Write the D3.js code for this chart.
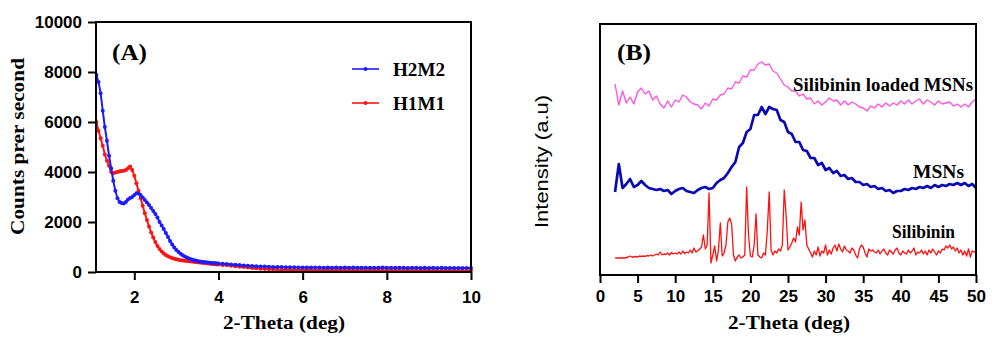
<!DOCTYPE html>
<html><head><meta charset="utf-8">
<script src="https://cdn.jsdelivr.net/npm/d3@7"></script>
<style>body{margin:0;background:#fff}svg{display:block}</style>
</head><body>
<svg id="c" width="1000" height="340"></svg>
<script>
// ---------- Panel A data ----------
const thetaA = d3.range(1.10, 4.001, 0.05).map(v => +v.toFixed(2))
  .concat(d3.range(4.1, 10.001, 0.1).map(v => +v.toFixed(1)));
const h2m2 = [
  7880,7600,7150,6450,5800,5250,4650,4150,3650,3250,
  2950,2800,2760,2740,2800,2900,2960,3000,3080,3150,
  3140,3080,2980,2880,2780,2680,2560,2440,2320,2180,
  2000,1860,1720,1560,1400,1240,1100,980,880,800,
  730,670,620,580,540,510,480,460,440,425,
  410,400,390,380,370,365,360,350,345,
  335,320,305,292,278,265,252,242,232,224,
  216,210,204,200,196,192,189,186,184,181,
  178,183,176,180,175,179,174,178,173,177,
  172,176,171,175,170,174,172,169,176,171,
  168,174,166,172,165,170,167,163,170,164,
  168,162,166,160,165,159,163,158,162,156
];
const h1m1 = [
  6000,5650,5350,5050,4700,4450,4250,4000,3950,3980,
  4000,4030,4040,4050,4080,4150,4220,4080,3850,3550,
  3250,2950,2650,2350,2080,1820,1580,1380,1200,1040,
  920,820,740,680,630,590,560,530,510,490,
  475,460,450,440,430,420,410,400,390,380,
  370,360,355,345,335,325,315,305,300,
  285,268,250,232,214,196,178,162,148,135,
  124,114,106,99,94,90,86,83,80,78,
  76,80,74,77,72,76,71,75,70,74,
  69,73,68,72,67,71,66,70,65,69,
  64,68,63,67,62,66,61,65,60,64,
  59,63,58,62,57,61,56,60,55,59
];
const seriesA = ["H2M2", "H1M1"];
const ticksAX = [2, 4, 6, 8, 10];
const ticksAY = [0, 2000, 4000, 6000, 8000, 10000];

// ---------- Panel B data (arbitrary intensity units, stacked) ----------
const thetaB = d3.range(2, 50.001, 0.5).map(v => +v.toFixed(2));
const thetaSil = d3.range(2, 50.001, 0.25).map(v => +v.toFixed(2));
const loadedMSNs = [
  191,170,184,172, 178,171,183,187, 181,184,175,179, 171,167,174,168,
  175,173,180,178, 173,171,170,166, 172,169,176,175, 180,181,187,186,
  193,192,199,198, 205,205,211,213, 210,211,204,202, 196,190,188,184,
  184,179,181,176, 177,171,174,170, 173,177,174,175, 170,174,170,173,
  171,168,167,164, 169,167,171,168, 172,169,172,170, 174,171,175,171,
  174,176,171,175, 173,170,174,171, 172,173,169,171, 168,171,168,173,
  176
];
const msns = [
  83,111,87,91, 96,88,90,94, 90,87,86,85, 86,84,85,81,
  84,86,87,84, 83,82,85,87, 88,86,87,92, 95,97,102,108,
  113,128,132,143, 146,160,160,168, 161,168,166,165, 155,153,143,141,
  133,133,125,124, 117,117,110,112, 105,107,102,104, 99,100,96,97,
  93,93,90,91, 88,89,86,87, 84,85,82,84, 84,86,85,87,
  86,88,87,89, 87,90,88,90, 89,91,90,92, 90,92,89,91,
  87
];
const silibinin = [
  17,17,17,17, 17,17,17.5,18, 19,18,18,18.5, 18,19,18.5,19,
  18.5,19.5,19,20, 19,20,21,20, 23,20,21,20.5, 22,20,22.5,21,
  22,21,23,21, 24,21.5,23,22, 25,22,27,23, 24,26,28,40,
  26,30,82,12, 20,29,14,25, 52,19,22,30, 53,57,51,20,
  14,18,20,17, 18,20,88,40, 19,18,30,61, 20,18,17,22,
  20,45,83,25, 20,24,22,26, 24,30,85,60, 25,28,32,37,
  33,48,40,73, 45,55,30,26, 22,18,24,20, 28,19,24,22,
  30,20,25,21, 27,30,24,31, 26,23,29,25, 24,22,27,25,
  20,17,26,30, 28,22,18,26, 24,25,23,22, 25,21,24,26,
  22,20,25,23, 21,25,27,22, 20,24,22,21, 25,22,24,27,
  20,23,22,25, 21,24,20,25, 22,26,23,20, 24,22,26,25,
  29,27,30,26, 28,24,27,22, 25,20,24,19, 26,18,24,23,
  23
];
const seriesB = ["Silibinin loaded MSNs", "MSNs", "Silibinin"];
const ticksBX = d3.range(0, 51, 5);

// ---------- drawing ----------
const svg = d3.select("#c");
const SANS = "'Liberation Sans', Arial, sans-serif";
const SERIF = "'Liberation Serif', 'Times New Roman', serif";
const blueA = "#1c1cff", redA = "#ff1414";

// Panel A scales
const xA = d3.scaleLinear().domain([1.09, 10]).range([96, 471]);
const yA = d3.scaleLinear().domain([0, 10000]).range([272, 22]);

function styleAxis(g) {
  g.select(".domain").remove();
  g.selectAll(".tick line").attr("stroke", "#000").attr("stroke-width", 2);
  g.selectAll(".tick text").attr("font-family", SANS).attr("font-weight", "bold")
    .attr("font-size", 17).attr("fill", "#000");
}

const gA = svg.append("g");
gA.append("g").attr("transform", "translate(96,0)")
  .call(d3.axisLeft(yA).tickValues(ticksAY).tickSize(8).tickPadding(6).tickFormat(d3.format("d")))
  .call(styleAxis);
gA.append("g").attr("transform", "translate(0,272)")
  .call(d3.axisBottom(xA).tickValues(ticksAX).tickSize(8).tickPadding(11).tickFormat(d3.format("d")))
  .call(styleAxis);

const clipA = svg.append("clipPath").attr("id", "clipA");
clipA.append("rect").attr("x", 96).attr("y", 18).attr("width", 378).attr("height", 256);

const lineA = (vals) => d3.line().x((d, i) => xA(thetaA[i])).y(d => yA(d))(vals);
[[h1m1, redA], [h2m2, blueA]].forEach(([vals, col]) => {
  const g = gA.append("g").attr("clip-path", "url(#clipA)");
  g.append("path").attr("d", lineA(vals)).attr("fill", "none").attr("stroke", col).attr("stroke-width", 2);
  g.selectAll("circle").data(vals).join("circle")
    .attr("cx", (d, i) => xA(thetaA[i])).attr("cy", d => yA(d)).attr("r", 2).attr("fill", col);
});

gA.append("rect").attr("x", 96).attr("y", 22).attr("width", 375).attr("height", 250)
  .attr("fill", "none").attr("stroke", "#000").attr("stroke-width", 2);

// legend A
[[seriesA[0], blueA, 69], [seriesA[1], redA, 103]].forEach(([name, col, y]) => {
  gA.append("line").attr("x1", 352).attr("x2", 379).attr("y1", y).attr("y2", y)
    .attr("stroke", col).attr("stroke-width", 1.6);
  gA.append("circle").attr("cx", 365.5).attr("cy", y).attr("r", 2).attr("fill", col);
  gA.append("text").attr("x", 393).attr("y", y + 6.5).text(name)
    .attr("font-family", SERIF).attr("font-weight", "bold").attr("font-size", 18)
    .attr("textLength", 52).attr("lengthAdjust", "spacingAndGlyphs");
});
gA.append("text").attr("x", 112).attr("y", 59.5).text("(A)")
  .attr("font-family", SERIF).attr("font-weight", "bold").attr("font-size", 23)
  .attr("textLength", 35).attr("lengthAdjust", "spacingAndGlyphs");
gA.append("text").attr("x", 284).attr("y", 328.5).attr("text-anchor", "middle").text("2-Theta (deg)")
  .attr("font-family", SERIF).attr("font-weight", "bold").attr("font-size", 18)
  .attr("textLength", 122).attr("lengthAdjust", "spacingAndGlyphs");
gA.append("text").attr("transform", "translate(24,146.5) rotate(-90)").attr("text-anchor", "middle")
  .text("Counts prer second")
  .attr("font-family", SERIF).attr("font-weight", "bold").attr("font-size", 18)
  .attr("textLength", 177).attr("lengthAdjust", "spacingAndGlyphs");

// Panel B scales
const xB = d3.scaleLinear().domain([0, 50]).range([600, 976]);
const yB = d3.scaleLinear().domain([0, 251]).range([275, 24]);
const gB = svg.append("g");
gB.append("g").attr("transform", "translate(0,275)")
  .call(d3.axisBottom(xB).tickValues(ticksBX).tickSize(8).tickPadding(7).tickFormat(d3.format("d")))
  .call(styleAxis);

const lineB = (xs, vals) => d3.line().x((d, i) => xB(xs[i])).y(d => yB(d))(vals);
[[thetaB, loadedMSNs, "#ff55dd", 1.4], [thetaB, msns, "#0a0ab4", 2.7], [thetaSil, silibinin, "#ff1010", 1.3]]
  .forEach(([xs, vals, col, w]) => {
    gB.append("path").attr("d", lineB(xs, vals)).attr("fill", "none").attr("stroke", col)
      .attr("stroke-width", w).attr("stroke-linejoin", "round");
  });

gB.append("rect").attr("x", 600).attr("y", 24).attr("width", 376).attr("height", 251)
  .attr("fill", "none").attr("stroke", "#000").attr("stroke-width", 2);

gB.append("text").attr("x", 617).attr("y", 59.5).text("(B)")
  .attr("font-family", SERIF).attr("font-weight", "bold").attr("font-size", 23)
  .attr("textLength", 34).attr("lengthAdjust", "spacingAndGlyphs");
[[seriesB[0], 793, 90.5, 180], [seriesB[1], 913, 177.5, 51], [seriesB[2], 892, 237.5, 63]].forEach(([t, x, y, L]) => {
  gB.append("text").attr("x", x).attr("y", y).text(t)
    .attr("font-family", SERIF).attr("font-weight", "bold").attr("font-size", 18)
    .attr("textLength", L).attr("lengthAdjust", "spacingAndGlyphs");
});
gB.append("text").attr("x", 789).attr("y", 328.5).attr("text-anchor", "middle").text("2-Theta (deg)")
  .attr("font-family", SERIF).attr("font-weight", "bold").attr("font-size", 18)
  .attr("textLength", 122).attr("lengthAdjust", "spacingAndGlyphs");
gB.append("text").attr("transform", "translate(548,161.5) rotate(-90)").attr("text-anchor", "middle")
  .text("Intensity (a.u)")
  .attr("font-family", SANS).attr("font-size", 18)
  .attr("textLength", 133).attr("lengthAdjust", "spacingAndGlyphs");
</script>
</body></html>
